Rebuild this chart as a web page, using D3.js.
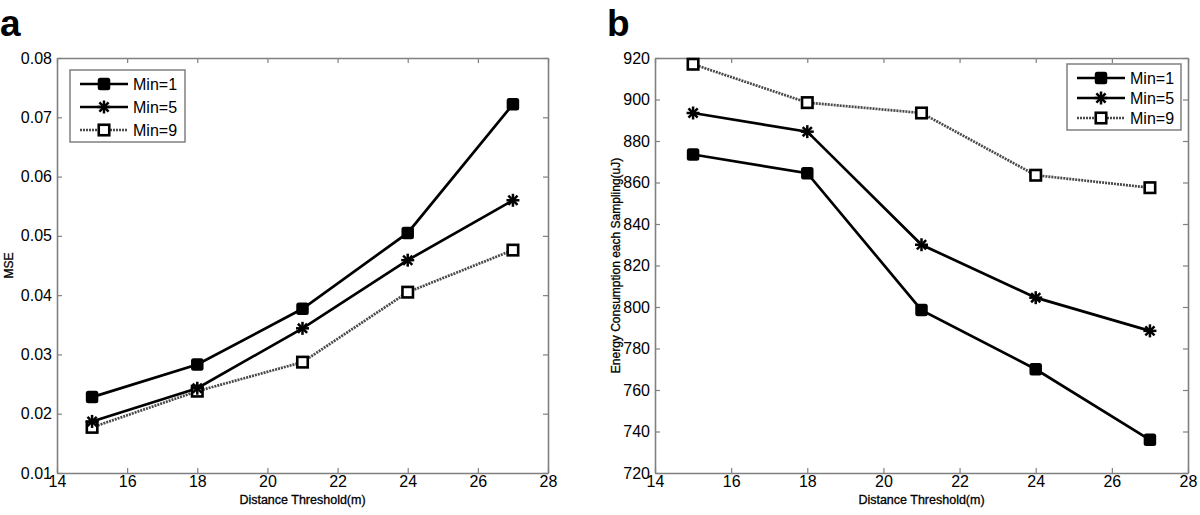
<!DOCTYPE html>
<html><head><meta charset="utf-8">
<script src="https://cdn.jsdelivr.net/npm/d3@7"></script>
<style>
body{margin:0;background:#fff;}
svg{display:block;font-family:"Liberation Sans",Arial,sans-serif;}
</style></head>
<body>
<svg id="c" width="1200" height="515"></svg>
<script>
const xs = [15, 18, 21, 24, 27];
const seriesNames = ["Min=1", "Min=5", "Min=9"];
// panel a: MSE
const mseMin1 = [0.0228, 0.0283, 0.0377, 0.0505, 0.0722];
const mseMin5 = [0.0187, 0.0243, 0.0344, 0.0459, 0.0560];
const mseMin9 = [0.0177, 0.0238, 0.0287, 0.0405, 0.0476];
// panel b: energy
const enMin1 = [873.5, 864.5, 798.5, 770, 736];
const enMin5 = [893.5, 884.5, 830, 804.5, 788.5];
const enMin9 = [917, 898.5, 893.5, 863.5, 857.5];
const xTicks = [14, 16, 18, 20, 22, 24, 26, 28];
const mseTicks = [0.01, 0.02, 0.03, 0.04, 0.05, 0.06, 0.07, 0.08];
const enTicks = [720, 740, 760, 780, 800, 820, 840, 860, 880, 900, 920];

const svg = d3.select("#c");
const axisCol = "#808080";
const styles = [
  {stroke:"#000", dash:null, marker:"filled"},
  {stroke:"#000", dash:null, marker:"star"},
  {stroke:"#4a4a4a", dash:"2,1", marker:"open"}
];

function drawMarker(g, type, x, y) {
  if (type === "filled") {
    const s = 12.5;
    g.append("rect").attr("x", x - s/2).attr("y", y - s/2).attr("width", s).attr("height", s)
      .attr("rx", 2.5).attr("fill", "#000");
  } else if (type === "open") {
    const o = 10.5;
    g.append("rect").attr("x", x - o/2).attr("y", y - o/2).attr("width", o).attr("height", o)
      .attr("fill", "#fff").attr("stroke", "#000").attr("stroke-width", 2.6);
  } else {
    const r = 6.5;
    for (let k = 0; k < 4; k++) {
      const a = k * Math.PI / 4;
      g.append("line").attr("x1", x - r*Math.cos(a)).attr("y1", y - r*Math.sin(a))
        .attr("x2", x + r*Math.cos(a)).attr("y2", y + r*Math.sin(a))
        .attr("stroke", "#000").attr("stroke-width", 2.5);
    }
  }
}

function panel(opt) {
  const x = d3.scaleLinear().domain([14, 28]).range([opt.x0, opt.x1]);
  const y = d3.scaleLinear().domain(opt.yDomain).range([473, 58]);
  const g = svg.append("g");
  const bottom = g.append("g").attr("transform", "translate(0,473)")
    .call(d3.axisBottom(x).tickValues(xTicks).tickSizeInner(-5).tickSizeOuter(0).tickPadding(3).tickFormat(d3.format("d")));
  const top = g.append("g").attr("transform", "translate(0,58)")
    .call(d3.axisTop(x).tickValues(xTicks).tickSizeInner(-5).tickSizeOuter(0).tickFormat(""));
  const left = g.append("g").attr("transform", `translate(${opt.x0},0)`)
    .call(d3.axisLeft(y).tickValues(opt.yTicks).tickSizeInner(-5).tickSizeOuter(0).tickPadding(5).tickFormat(opt.fmt));
  const right = g.append("g").attr("transform", `translate(${opt.x1},0)`)
    .call(d3.axisRight(y).tickValues(opt.yTicks).tickSizeInner(-5).tickSizeOuter(0).tickFormat(""));
  [bottom, top, left, right].forEach(a => {
    a.select(".domain").attr("stroke", axisCol).attr("stroke-width", 1.6);
    a.selectAll(".tick line").attr("stroke", axisCol).attr("stroke-width", 1.2);
    a.selectAll(".tick text").attr("fill", "#000").attr("font-size", 16)
      .attr("font-family", "Liberation Sans, Arial, sans-serif");
  });
  g.append("text").attr("x", (opt.x0 + opt.x1)/2).attr("y", 504).attr("text-anchor", "middle")
    .attr("font-size", 12.5).attr("fill", "#000").attr("stroke", "#000").attr("stroke-width", 0.3)
    .text("Distance Threshold(m)");
  g.append("text").attr("transform", `translate(${opt.yTitleX},265.5) rotate(-90)`)
    .attr("text-anchor", "middle").attr("font-size", 12).attr("fill", "#000")
    .attr("stroke", "#000").attr("stroke-width", 0.3).text(opt.yTitle);
  g.append("text").attr("x", opt.letterX).attr("y", 36).attr("font-size", 37).attr("font-weight", "bold")
    .attr("fill", "#000").text(opt.letter);
  const line = d3.line().x((d, i) => x(xs[i])).y(d => y(d));
  [2, 1, 0].forEach(si => {
    g.append("path").datum(opt.data[si]).attr("d", line).attr("fill", "none")
      .attr("stroke", styles[si].stroke).attr("stroke-width", 2.7)
      .attr("stroke-dasharray", styles[si].dash);
  });
  [2, 1, 0].forEach(si => {
    opt.data[si].forEach((v, i) => drawMarker(g, styles[si].marker, x(xs[i]), y(v)));
  });
  const L = opt.legend;
  g.append("rect").attr("x", L.x).attr("y", L.y).attr("width", L.w).attr("height", L.h)
    .attr("fill", "#fff").attr("stroke", axisCol).attr("stroke-width", 1.5);
  seriesNames.forEach((name, si) => {
    const cy = L.rows[si];
    g.append("line").attr("x1", L.x + 10).attr("x2", L.x + 58).attr("y1", cy).attr("y2", cy)
      .attr("stroke", styles[si].stroke).attr("stroke-width", 2.7).attr("stroke-dasharray", styles[si].dash);
    drawMarker(g, styles[si].marker, L.x + 34, cy);
    g.append("text").attr("x", L.x + 63).attr("y", cy + 6).attr("font-size", 16).attr("fill", "#000").text(name);
  });
}

panel({
  x0: 57, x1: 548, yDomain: [0.01, 0.08], yTicks: mseTicks, fmt: d3.format(".2f"),
  yTitle: "MSE", yTitleX: 13, letter: "a", letterX: 0,
  data: [mseMin1, mseMin5, mseMin9],
  legend: {x: 70, y: 70, w: 115, h: 72, rows: [84, 107, 130]}
});
panel({
  x0: 655, x1: 1188, yDomain: [720, 920], yTicks: enTicks, fmt: d3.format("d"),
  yTitle: "Energy Consumption each Sampling(uJ)", yTitleX: 620, letter: "b", letterX: 607,
  data: [enMin1, enMin5, enMin9],
  legend: {x: 1067, y: 64, w: 114, h: 66, rows: [78, 98, 118]}
});
</script>
</body></html>
